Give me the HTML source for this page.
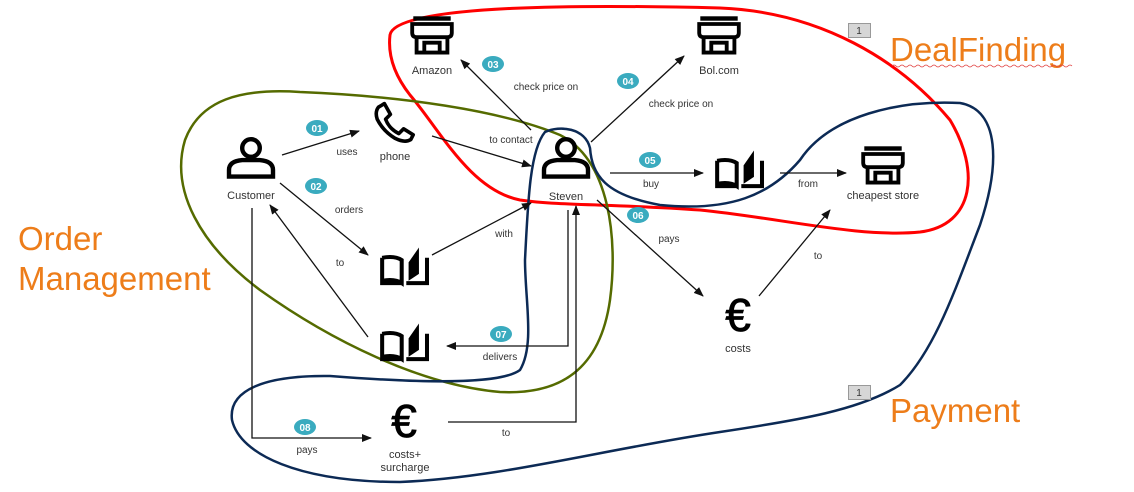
<!DOCTYPE html>
<html><head><meta charset="utf-8"><style>
html,body{margin:0;padding:0;background:#fff;width:1134px;height:492px;overflow:hidden}
svg{display:block;font-family:"Liberation Sans",Arial,sans-serif}
.l{font-size:10px;fill:#333;text-anchor:middle}
.n{font-size:11px;fill:#333;text-anchor:middle}
.b{fill:#3aabbf}
.bt{font-size:10px;fill:#fff;font-weight:bold;text-anchor:middle}
.e{stroke:#111;stroke-width:1.3;fill:none}
.big{font-size:33px;fill:#ed7d1a}
</style></head><body>
<svg width="1134" height="492" viewBox="0 0 1134 492">
<defs>
<marker id="a" markerWidth="10" markerHeight="8" refX="9" refY="4" orient="auto" markerUnits="userSpaceOnUse"><path d="M0,0L10,4L0,8z" fill="#111"/></marker>
<g id="person"><circle cx="0" cy="-10" r="8" fill="none" stroke="#000" stroke-width="4"/><path d="M-20,16 L-20,10 Q-20,2 -8,1 L8,1 Q20,2 20,10 L20,16 Z" fill="none" stroke="#000" stroke-width="4"/></g>
<g id="store"><rect x="-17" y="-17" width="34" height="4" fill="#000"/><path d="M-18,-10 L18,-10 L18,-2 Q18,2 14,2 L-14,2 Q-18,2 -18,-2 Z" fill="none" stroke="#000" stroke-width="3.5"/><path d="M-14,2 L-14,16 L14,16 L14,2 M-7,16 L-7,7 L7,7 L7,16" fill="none" stroke="#000" stroke-width="3.5"/></g>
<g id="book"><path d="M-19,-8 L-19,14 L-2,14 M-19,-8 Q-8,-10 -2,-6 L-2,14 Q-8,10 -19,12" fill="none" stroke="#000" stroke-width="3.5"/><path d="M2,14 L20,14 L20,-8" fill="none" stroke="#000" stroke-width="3.5"/><path d="M4,-4 L13,-17 L13,6 L4,12 Z" fill="#000"/></g>
</defs>

<!-- blobs -->
<path d="M390,35 C395,3 600,5 720,8 C820,12 900,60 950,120 C980,170 975,225 920,232 C860,238 780,218 700,210 C620,204 560,206 520,200 C470,190 440,130 410,95 C392,72 388,52 390,35 Z" fill="none" stroke="#ff0000" stroke-width="3"/>
<path d="M185,140 C200,100 240,88 300,92 C400,96 500,110 560,135 C610,160 618,240 610,300 C600,370 560,395 500,392 C420,385 330,340 260,290 C200,245 170,190 185,140 Z" fill="none" stroke="#556b00" stroke-width="2.5"/>
<path d="M545,132 C560,125 585,128 590,148 C592,175 605,195 660,205 C730,212 770,195 800,160 C830,115 900,100 960,103 C1000,110 1000,165 980,225 C955,290 935,350 900,385 C860,410 800,420 720,432 C600,450 500,478 400,482 C300,482 240,455 232,420 C228,390 265,375 330,376 C420,383 500,385 520,370 C535,345 525,300 525,260 C528,200 530,150 545,132 Z" fill="none" stroke="#0c2a55" stroke-width="2.5"/>

<!-- big labels -->
<text x="890" y="61" class="big">DealFinding</text>
<path d="M892,66 q2,-2 4,0 t4,0 t4,0 t4,0 t4,0 t4,0 t4,0 t4,0 t4,0 t4,0 t4,0 t4,0 t4,0 t4,0 t4,0 t4,0 t4,0 t4,0 t4,0 t4,0 t4,0 t4,0 t4,0 t4,0 t4,0 t4,0 t4,0 t4,0 t4,0 t4,0 t4,0 t4,0 t4,0 t4,0 t4,0 t4,0 t4,0 t4,0 t4,0 t4,0 t4,0 t4,0 t4,0 t4,0 t4,0" fill="none" stroke="#e04040" stroke-width="0.8"/>
<text x="18" y="250" class="big">Order</text>
<text x="18" y="290" class="big">Management</text>
<text x="890" y="422" class="big">Payment</text>
<rect x="848.5" y="23.5" width="22" height="14" fill="#d6d6d6" stroke="#999"/><text x="859" y="34" font-size="10" text-anchor="middle" fill="#333">1</text>
<rect x="848.5" y="385.5" width="22" height="14" fill="#d6d6d6" stroke="#999"/><text x="859" y="396" font-size="10" text-anchor="middle" fill="#333">1</text>

<!-- edges -->
<line class="e" x1="282" y1="155" x2="359" y2="131" marker-end="url(#a)"/>
<line class="e" x1="432" y1="136" x2="531" y2="166" marker-end="url(#a)"/>
<line class="e" x1="531" y1="130" x2="461" y2="60" marker-end="url(#a)"/>
<line class="e" x1="591" y1="142" x2="684" y2="56" marker-end="url(#a)"/>
<line class="e" x1="610" y1="173" x2="703" y2="173" marker-end="url(#a)"/>
<line class="e" x1="780" y1="173" x2="846" y2="173" marker-end="url(#a)"/>
<line class="e" x1="280" y1="183" x2="368" y2="255" marker-end="url(#a)"/>
<line class="e" x1="432" y1="255" x2="531" y2="203" marker-end="url(#a)"/>
<line class="e" x1="368" y1="337" x2="270" y2="205" marker-end="url(#a)"/>
<polyline class="e" points="568,210 568,346 447,346" marker-end="url(#a)"/>
<line class="e" x1="597" y1="200" x2="703" y2="296" marker-end="url(#a)"/>
<line class="e" x1="759" y1="296" x2="830" y2="210" marker-end="url(#a)"/>
<polyline class="e" points="252,208 252,438 371,438" marker-end="url(#a)"/>
<polyline class="e" points="448,422 576,422 576,206" marker-end="url(#a)"/>

<!-- edge labels -->
<text class="l" x="347" y="155">uses</text>
<text class="l" x="511" y="143">to contact</text>
<text class="l" x="546" y="90">check price on</text>
<text class="l" x="681" y="107">check price on</text>
<text class="l" x="651" y="187">buy</text>
<text class="l" x="808" y="187">from</text>
<text class="l" x="349" y="213">orders</text>
<text class="l" x="504" y="237">with</text>
<text class="l" x="340" y="266">to</text>
<text class="l" x="500" y="360">delivers</text>
<text class="l" x="669" y="242">pays</text>
<text class="l" x="818" y="259">to</text>
<text class="l" x="307" y="453">pays</text>
<text class="l" x="506" y="436">to</text>

<!-- badges -->
<g><ellipse class="b" cx="317" cy="128" rx="11" ry="8"/><text class="bt" x="317" y="132">01</text></g>
<g><ellipse class="b" cx="316" cy="186" rx="11" ry="8"/><text class="bt" x="316" y="190">02</text></g>
<g><ellipse class="b" cx="493" cy="64" rx="11" ry="8"/><text class="bt" x="493" y="68">03</text></g>
<g><ellipse class="b" cx="628" cy="81" rx="11" ry="8"/><text class="bt" x="628" y="85">04</text></g>
<g><ellipse class="b" cx="650" cy="160" rx="11" ry="8"/><text class="bt" x="650" y="164">05</text></g>
<g><ellipse class="b" cx="638" cy="215" rx="11" ry="8"/><text class="bt" x="638" y="219">06</text></g>
<g><ellipse class="b" cx="501" cy="334" rx="11" ry="8"/><text class="bt" x="501" y="338">07</text></g>
<g><ellipse class="b" cx="305" cy="427" rx="11" ry="8"/><text class="bt" x="305" y="431">08</text></g>

<!-- nodes -->
<use href="#person" transform="translate(251,159) scale(1.1)"/><text class="n" x="251" y="199">Customer</text>
<use href="#person" transform="translate(566,159) scale(1.1)"/><text class="n" x="566" y="200">Steven</text>
<g transform="translate(394,124) scale(1.2) translate(-394,-124)"><path d="M381,110 L386,107 L391,116 L387,120 Q390,128 398,132 L402,128 L410,133 L408,137 Q403,140 395,136 Q385,130 380,120 Q378,114 381,110 Z" fill="none" stroke="#000" stroke-width="3" stroke-linejoin="round"/></g>
<text class="n" x="395" y="160">phone</text>
<use href="#store" transform="translate(432,35) scale(1.1)"/><text class="n" x="432" y="74">Amazon</text>
<use href="#store" transform="translate(719,35) scale(1.1)"/><text class="n" x="719" y="74">Bol.com</text>
<use href="#store" transform="translate(883,165) scale(1.1)"/><text class="n" x="883" y="199">cheapest store</text>
<use href="#book" transform="translate(739,170) scale(1.15)"/>
<use href="#book" transform="translate(404,267) scale(1.15)"/>
<use href="#book" transform="translate(404,343) scale(1.15)"/>
<text x="738" y="331" font-size="46" text-anchor="middle" fill="#000" stroke="#000" stroke-width="0.8">€</text>
<text class="n" x="738" y="352">costs</text>
<text x="404" y="437" font-size="46" text-anchor="middle" fill="#000" stroke="#000" stroke-width="0.8">€</text>
<text class="n" x="405" y="458">costs+</text>
<text class="n" x="405" y="471">surcharge</text>
</svg>
</body></html>
